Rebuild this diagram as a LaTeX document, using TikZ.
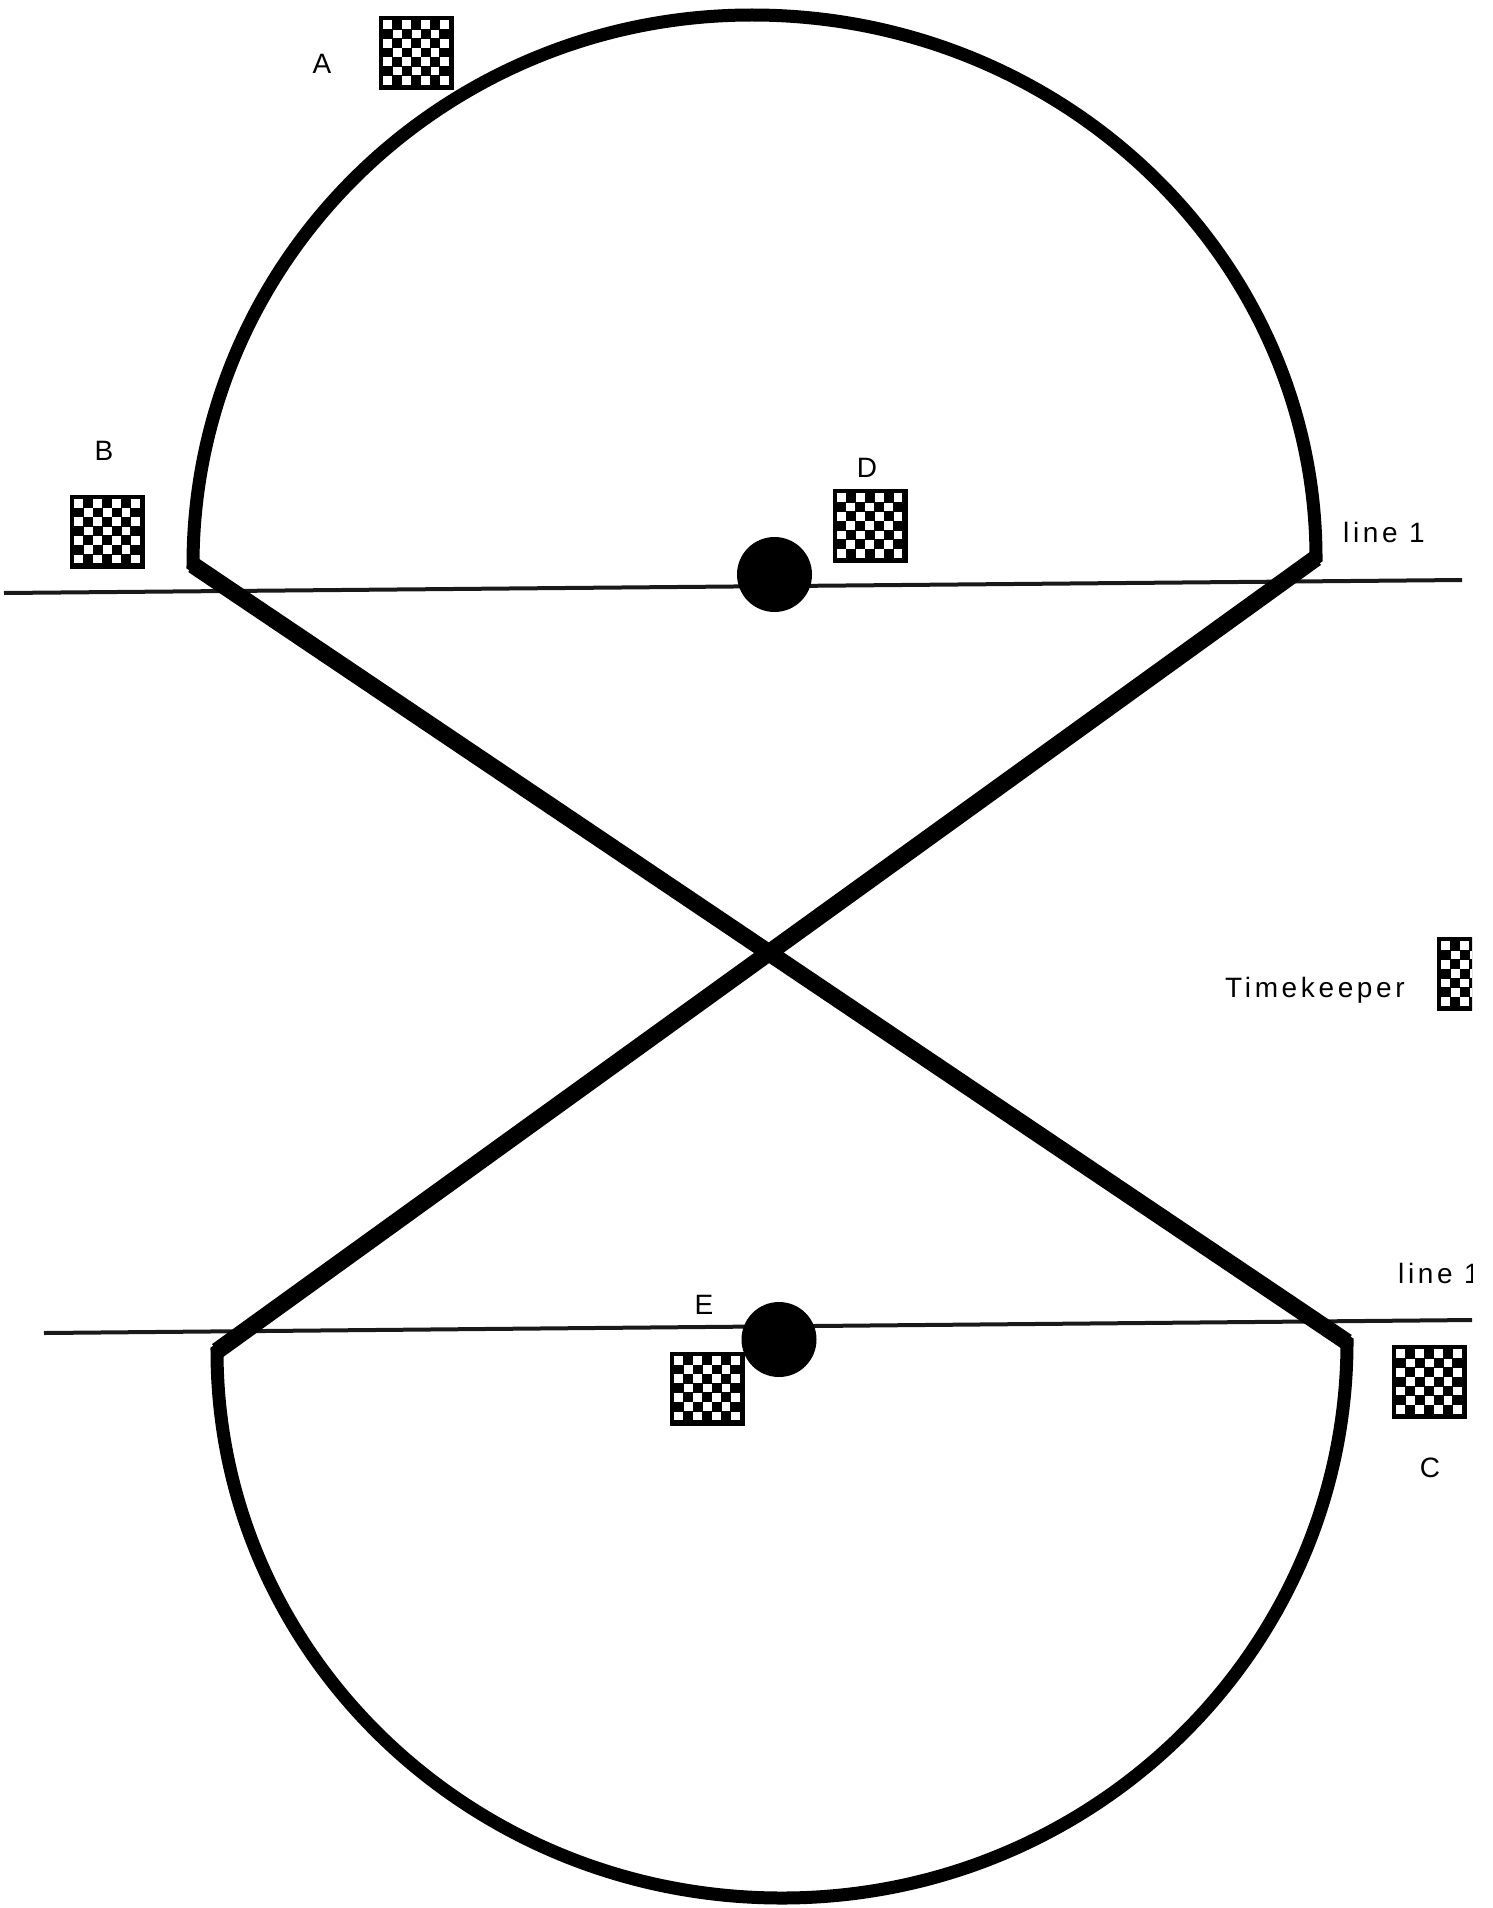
\documentclass[tikz,border=0pt]{standalone}
\usepackage{fontspec}
\setmainfont{Liberation Sans}[LetterSpace=13]
% white squares of a checkered flag, laid over a black node
\newcommand{\checkerfill}[1]{%
  \begin{scope}[shift={(#1.north west)}]
    \foreach \i in {0,...,6}{\foreach \j in {0,...,6}{
      \ifodd\numexpr\i+\j\relax\else
        \fill[white] ({4.5+\i*9.45},{4.5+\j*9.3}) rectangle ++(8.9,8.7);
      \fi}}
  \end{scope}}
\begin{document}
\begin{tikzpicture}[x=1pt,y=-1pt,
  rim/.style={line width=13pt, line join=miter},
  crossbar/.style={line width=17pt, line cap=butt},
  markline/.style={line width=4pt, black!90},
  lbl/.style={font=\fontsize{28}{30}\selectfont, inner sep=0pt},
  dot/.style={circle, fill=black, minimum size=75pt, inner sep=0pt},
  flag/.style={rectangle, fill=black, minimum width=75pt, minimum height=74pt, inner sep=0pt}]
\useasboundingbox (0,0) rectangle (1492,1908);
\begin{scope}
\clip (0,0) rectangle (1472,1908);

% corners of the figure-eight course
\coordinate (tl) at (193,565);
\coordinate (tt) at (752,15);
\coordinate (tr) at (1316,558);
\coordinate (bl) at (217,1351);
\coordinate (bb) at (782,1898);
\coordinate (br) at (1347,1342);

% start/finish lines
\coordinate (l1a) at (4,593);
\coordinate (l1b) at (1462,580);
\coordinate (l2a) at (44,1333);
\coordinate (l2b) at (1473,1320);
\draw[markline] (l1a) -- (l1b);
\draw[markline] (l2a) -- (l2b);

% course outline
\draw[rim] (tl) .. controls (193,261) and (443,15) .. (tt)
  .. controls (1063,15) and (1316,258) .. (tr) -- (bl)
  .. controls (217,1653) and (470,1898) .. (bb)
  .. controls (1094,1898) and (1347,1649) .. (br) -- cycle;
\draw[crossbar] (tr) -- (bl);
\draw[crossbar] (br) -- (tl);

% pylons
\node[dot] (p1) at (774.5,574.5) {};
\node[dot] (p2) at (779,1339.5) {};

% judges' stations
\node[flag] (fa) at (416.5,53) {};
\node[flag] (fb) at (107.5,531.5) {};
\node[flag] (fd) at (870,526) {};
\node[flag] (fe) at (707.5,1388.5) {};
\node[flag] (fc) at (1429.5,1382) {};
\node[flag] (ft) at (1474.5,974) {};
\foreach \f in {fa,fb,fd,fe,fc,ft}{\checkerfill{\f}}

% labels
\node[lbl, anchor=base] (la) at (322,74) {A};
\node[lbl, anchor=base] (lb) at (104,460) {B};
\node[lbl, anchor=base] (ld) at (867,477) {D};
\node[lbl, anchor=base] (le) at (704,1314) {E};
\node[lbl, anchor=base] (lc) at (1430,1477) {C};
\node[lbl, anchor=base west] (ln1) at (1343,542) {line 1};
\node[lbl, anchor=base west] (ln2) at (1398,1283) {line 1};
\node[lbl, anchor=base west] (ltk) at (1225,997) {Timekeeper};
\end{scope}
\end{tikzpicture}
\end{document}
